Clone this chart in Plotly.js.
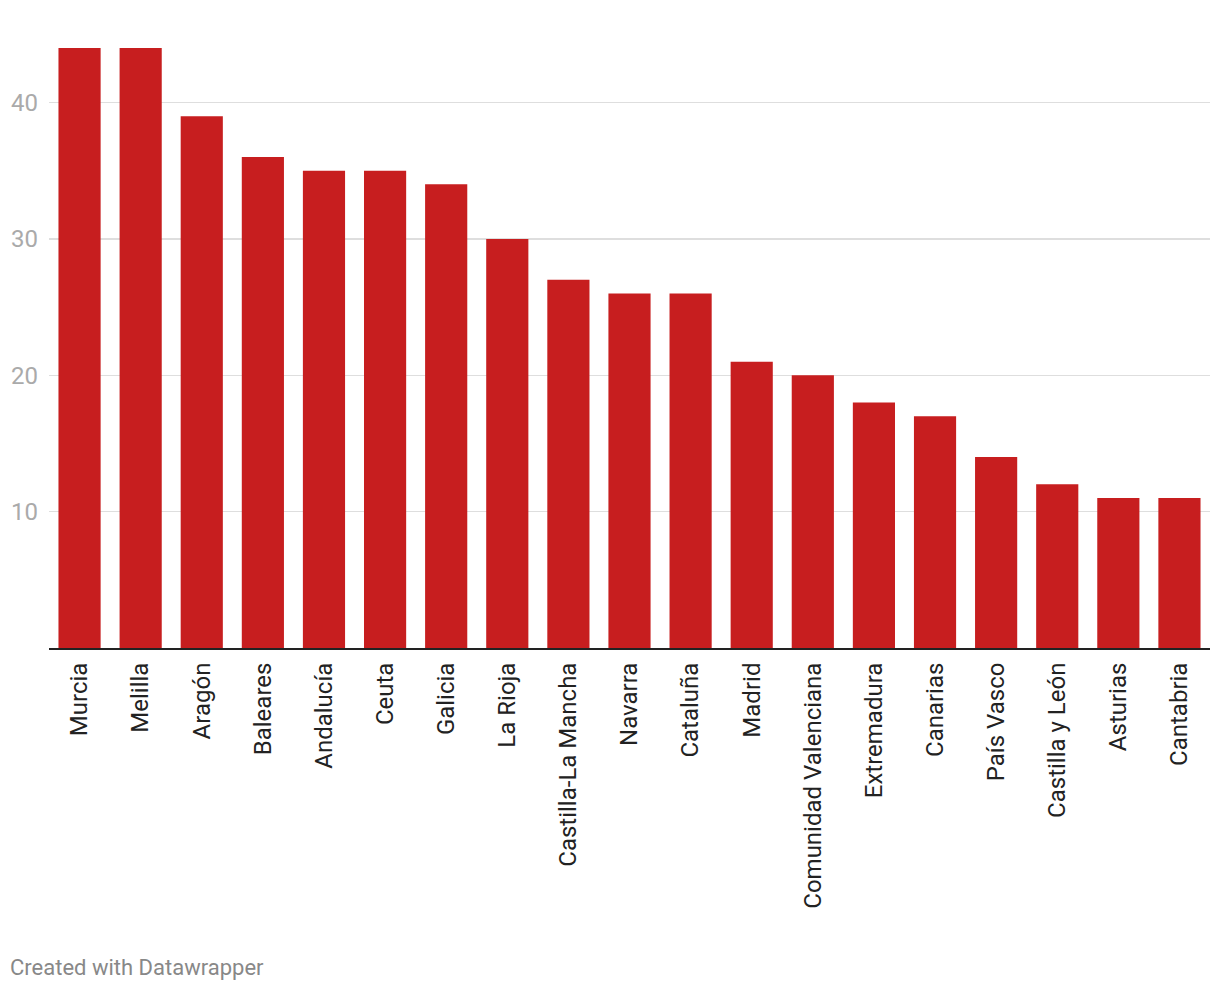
<!DOCTYPE html>
<html>
<head>
<meta charset="utf-8">
<script src="https://cdn.plot.ly/plotly-3.0.1.min.js"></script>
<style>
html,body{margin:0;padding:0;background:#fff;}
#chart{width:1220px;height:992px;}
</style>
</head>
<body>
<div id="chart"></div>
<script>
const regions = ["Murcia","Melilla","Aragón","Baleares","Andalucía","Ceuta","Galicia","La Rioja","Castilla-La Mancha","Navarra","Cataluña","Madrid","Comunidad Valenciana","Extremadura","Canarias","País Vasco","Castilla y León","Asturias","Cantabria"];
const values = [44,44,39,36,35,35,34,30,27,26,26,21,20,18,17,14,12,11,11];
const yTicks = [10,20,30,40];

const trace = {
  type: 'bar',
  x: regions,
  y: values,
  marker: {color: '#c71e1f'},
  hoverinfo: 'x+y'
};

const layout = {
  width: 1220,
  height: 992,
  margin: {l: 49, r: 10, t: 48, b: 344},
  paper_bgcolor: '#fff',
  plot_bgcolor: '#fff',
  bargap: 0.31,
  showlegend: false,
  font: {family: 'Roboto, sans-serif'},
  xaxis: {
    type: 'category',
    tickangle: -90,
    tickfont: {size: 24, color: '#222', family: 'Roboto, sans-serif'},
    showline: true,
    linecolor: '#222',
    linewidth: 2,
    ticks: '',
    showgrid: false,
    ticklabelstandoff: 3,
    fixedrange: true
  },
  yaxis: {
    range: [0, 44],
    tickvals: yTicks,
    ticktext: yTicks.map(String),
    tickfont: {size: 24, color: '#aaaaaa', family: 'Roboto, sans-serif'},
    gridcolor: '#dedede',
    gridwidth: 1.3,
    zeroline: false,
    showline: false,
    ticks: '',
    ticklabelstandoff: 10,
    fixedrange: true
  },
  annotations: [{
    text: 'Created with Datawrapper',
    xref: 'paper', yref: 'paper',
    x: 0, y: 0,
    xshift: -49 + 8,
    yshift: -(967 - 648),
    xanchor: 'left', yanchor: 'middle',
    showarrow: false,
    font: {size: 22, color: '#888888', family: 'Roboto, sans-serif'}
  }]
};

Plotly.newPlot('chart', [trace], layout, {displayModeBar: false, staticPlot: true});
</script>
</body>
</html>
